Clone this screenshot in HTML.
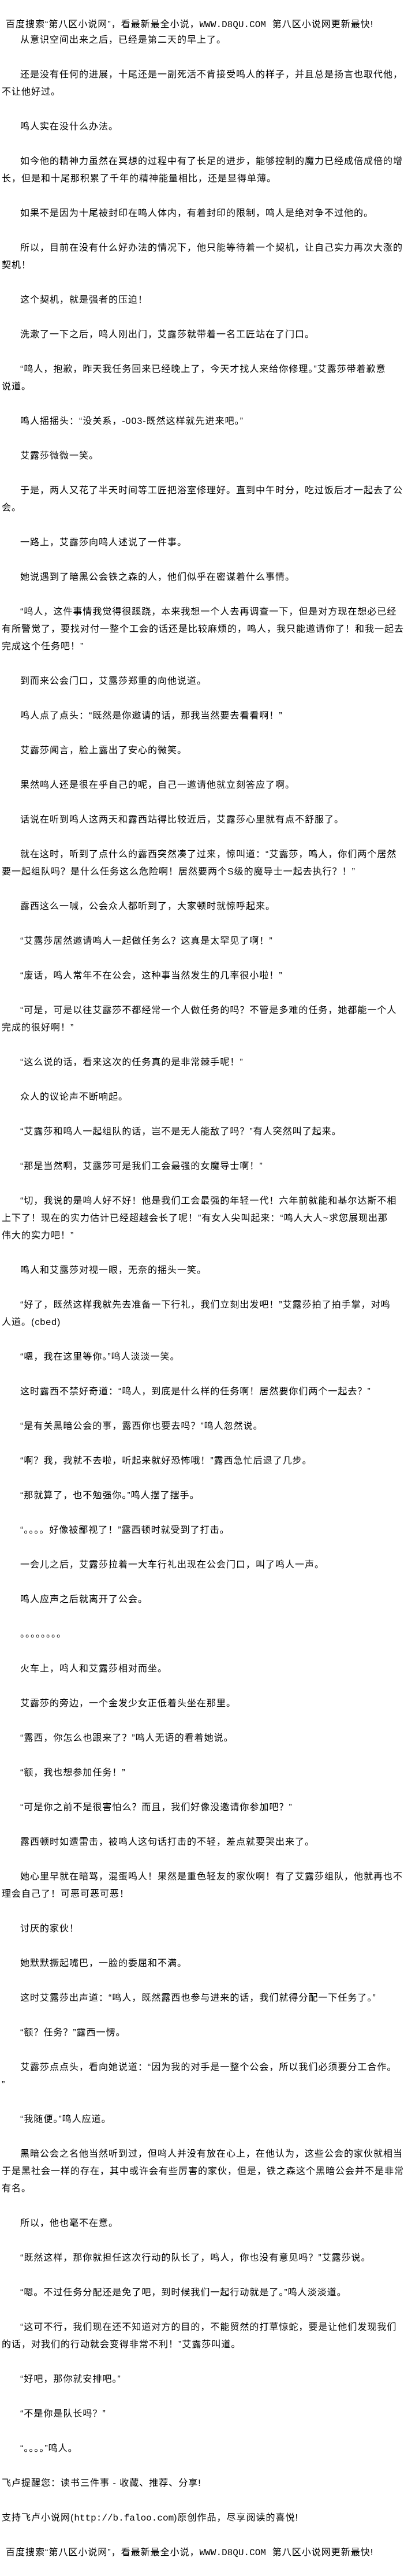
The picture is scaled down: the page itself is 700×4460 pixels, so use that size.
<!DOCTYPE html>
<html><head><meta charset="utf-8">
<style>
html,body{margin:0;padding:0;background:#fff;}
body{width:700px;height:4460px;position:relative;overflow:hidden;color:#000;
font-family:"Liberation Sans","Noto Sans CJK SC","WenQuanYi Zen Hei",sans-serif;font-size:16px;letter-spacing:1px;}
#c{position:absolute;left:0;top:55px;width:700px;}
#c div{height:30px;line-height:30px;white-space:nowrap;padding-left:3px;}
#c div.i{padding-left:35px;}
#c div.h{padding-left:10px;}
.m{font-family:"Liberation Mono",monospace;letter-spacing:0;}
#hd{position:absolute;left:10px;top:28px;height:30px;line-height:30px;white-space:nowrap;}
</style></head><body>
<div id="hd">百度搜索“第八区小说网”，看最新最全小说，<span class="m">WWW.D8QU.COM</span>&nbsp;&nbsp;第八区小说网更新最快!</div>
<div id="c">
<div class="i">从意识空间出来之后，已经是第二天的早上了。</div><div></div>
<div class="i">还是没有任何的进展，十尾还是一副死活不肯接受鸣人的样子，并且总是扬言也取代他，</div>
<div>不让他好过。</div><div></div>
<div class="i">鸣人实在没什么办法。</div><div></div>
<div class="i">如今他的精神力虽然在冥想的过程中有了长足的进步，能够控制的魔力已经成倍成倍的增</div>
<div>长，但是和十尾那积累了千年的精神能量相比，还是显得单薄。</div><div></div>
<div class="i">如果不是因为十尾被封印在鸣人体内，有着封印的限制，鸣人是绝对争不过他的。</div><div></div>
<div class="i">所以，目前在没有什么好办法的情况下，他只能等待着一个契机，让自己实力再次大涨的</div>
<div>契机！</div><div></div>
<div class="i">这个契机，就是强者的压迫！</div><div></div>
<div class="i">洗漱了一下之后，鸣人刚出门，艾露莎就带着一名工匠站在了门口。</div><div></div>
<div class="i">“鸣人，抱歉，昨天我任务回来已经晚上了，今天才找人来给你修理。”艾露莎带着歉意</div>
<div>说道。</div><div></div>
<div class="i">鸣人摇摇头：“没关系，-003-既然这样就先进来吧。”</div><div></div>
<div class="i">艾露莎微微一笑。</div><div></div>
<div class="i">于是，两人又花了半天时间等工匠把浴室修理好。直到中午时分，吃过饭后才一起去了公</div>
<div>会。</div><div></div>
<div class="i">一路上，艾露莎向鸣人述说了一件事。</div><div></div>
<div class="i">她说遇到了暗黑公会铁之森的人，他们似乎在密谋着什么事情。</div><div></div>
<div class="i">“鸣人，这件事情我觉得很蹊跷，本来我想一个人去再调查一下，但是对方现在想必已经</div>
<div>有所警觉了，要找对付一整个工会的话还是比较麻烦的，鸣人，我只能邀请你了！和我一起去</div>
<div>完成这个任务吧！”</div><div></div>
<div class="i">到而来公会门口，艾露莎郑重的向他说道。</div><div></div>
<div class="i">鸣人点了点头：“既然是你邀请的话，那我当然要去看看啊！”</div><div></div>
<div class="i">艾露莎闻言，脸上露出了安心的微笑。</div><div></div>
<div class="i">果然鸣人还是很在乎自己的呢，自己一邀请他就立刻答应了啊。</div><div></div>
<div class="i">话说在听到鸣人这两天和露西站得比较近后，艾露莎心里就有点不舒服了。</div><div></div>
<div class="i">就在这时，听到了点什么的露西突然凑了过来，惊叫道：“艾露莎，鸣人，你们两个居然</div>
<div>要一起组队吗？是什么任务这么危险啊！居然要两个S级的魔导士一起去执行？！”</div><div></div>
<div class="i">露西这么一喊，公会众人都听到了，大家顿时就惊呼起来。</div><div></div>
<div class="i">“艾露莎居然邀请鸣人一起做任务么？这真是太罕见了啊！”</div><div></div>
<div class="i">“废话，鸣人常年不在公会，这种事当然发生的几率很小啦！”</div><div></div>
<div class="i">“可是，可是以往艾露莎不都经常一个人做任务的吗？不管是多难的任务，她都能一个人</div>
<div>完成的很好啊！”</div><div></div>
<div class="i">“这么说的话，看来这次的任务真的是非常棘手呢！”</div><div></div>
<div class="i">众人的议论声不断响起。</div><div></div>
<div class="i">“艾露莎和鸣人一起组队的话，岂不是无人能敌了吗？”有人突然叫了起来。</div><div></div>
<div class="i">“那是当然啊，艾露莎可是我们工会最强的女魔导士啊！”</div><div></div>
<div class="i">“切，我说的是鸣人好不好！他是我们工会最强的年轻一代！六年前就能和基尔达斯不相</div>
<div>上下了！现在的实力估计已经超越会长了呢！”有女人尖叫起来：“鸣人大人~求您展现出那</div>
<div>伟大的实力吧！”</div><div></div>
<div class="i">鸣人和艾露莎对视一眼，无奈的摇头一笑。</div><div></div>
<div class="i">“好了，既然这样我就先去准备一下行礼，我们立刻出发吧！”艾露莎拍了拍手掌，对鸣</div>
<div>人道。(cbed)</div><div></div>
<div class="i">“嗯，我在这里等你。”鸣人淡淡一笑。</div><div></div>
<div class="i">这时露西不禁好奇道：“鸣人，到底是什么样的任务啊！居然要你们两个一起去？”</div><div></div>
<div class="i">“是有关黑暗公会的事，露西你也要去吗？”鸣人忽然说。</div><div></div>
<div class="i">“啊？我，我就不去啦，听起来就好恐怖哦！”露西急忙后退了几步。</div><div></div>
<div class="i">“那就算了，也不勉强你。”鸣人摆了摆手。</div><div></div>
<div class="i">“。。。。好像被鄙视了！”露西顿时就受到了打击。</div><div></div>
<div class="i">一会儿之后，艾露莎拉着一大车行礼出现在公会门口，叫了鸣人一声。</div><div></div>
<div class="i">鸣人应声之后就离开了公会。</div><div></div>
<div class="i">。。。。。。。。</div><div></div>
<div class="i">火车上，鸣人和艾露莎相对而坐。</div><div></div>
<div class="i">艾露莎的旁边，一个金发少女正低着头坐在那里。</div><div></div>
<div class="i">“露西，你怎么也跟来了？”鸣人无语的看着她说。</div><div></div>
<div class="i">“额，我也想参加任务！”</div><div></div>
<div class="i">“可是你之前不是很害怕么？而且，我们好像没邀请你参加吧？”</div><div></div>
<div class="i">露西顿时如遭雷击，被鸣人这句话打击的不轻，差点就要哭出来了。</div><div></div>
<div class="i">她心里早就在暗骂，混蛋鸣人！果然是重色轻友的家伙啊！有了艾露莎组队，他就再也不</div>
<div>理会自己了！可恶可恶可恶！</div><div></div>
<div class="i">讨厌的家伙！</div><div></div>
<div class="i">她默默撅起嘴巴，一脸的委屈和不满。</div><div></div>
<div class="i">这时艾露莎出声道：“鸣人，既然露西也参与进来的话，我们就得分配一下任务了。”</div><div></div>
<div class="i">“额？任务？”露西一愣。</div><div></div>
<div class="i">艾露莎点点头，看向她说道：“因为我的对手是一整个公会，所以我们必须要分工合作。</div>
<div>”</div><div></div>
<div class="i">“我随便。”鸣人应道。</div><div></div>
<div class="i">黑暗公会之名他当然听到过，但鸣人并没有放在心上，在他认为，这些公会的家伙就相当</div>
<div>于是黑社会一样的存在，其中或许会有些厉害的家伙，但是，铁之森这个黑暗公会并不是非常</div>
<div>有名。</div><div></div>
<div class="i">所以，他也毫不在意。</div><div></div>
<div class="i">“既然这样，那你就担任这次行动的队长了，鸣人，你也没有意见吗？”艾露莎说。</div><div></div>
<div class="i">“嗯。不过任务分配还是免了吧，到时候我们一起行动就是了。”鸣人淡淡道。</div><div></div>
<div class="i">“这可不行，我们现在还不知道对方的目的，不能贸然的打草惊蛇，要是让他们发现我们</div>
<div>的话，对我们的行动就会变得非常不利！”艾露莎叫道。</div><div></div>
<div class="i">“好吧，那你就安排吧。”</div><div></div>
<div class="i">“不是你是队长吗？”</div><div></div>
<div class="i">“。。。。”鸣人。</div><div></div>
<div>飞卢提醒您：读书三件事 - 收藏、推荐、分享!</div><div></div>
<div>支持飞卢小说网(<span class="m">http://b.faloo.com</span>)原创作品，尽享阅读的喜悦!</div><div></div>
<div class="h">百度搜索“第八区小说网”，看最新最全小说，<span class="m">WWW.D8QU.COM</span>&nbsp;&nbsp;第八区小说网更新最快!</div>
</div>
</body></html>
